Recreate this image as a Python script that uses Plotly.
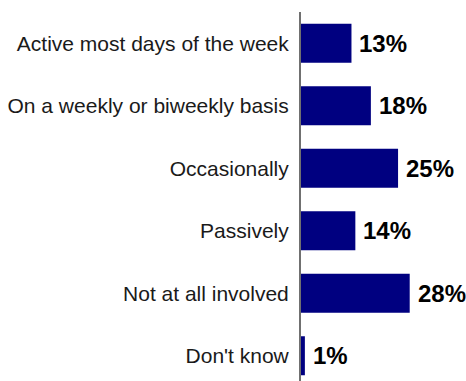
import plotly.graph_objects as go

categories = [
    "Active most days of the week",
    "On a weekly or biweekly basis",
    "Occasionally",
    "Passively",
    "Not at all involved",
    "Don't know",
]
values = [13, 18, 25, 14, 28, 1]

bar_color = "#000080"

fig = go.Figure(
    go.Bar(
        x=values,
        y=categories,
        orientation="h",
        marker=dict(color=bar_color, line=dict(width=0)),
        hoverinfo="skip",
    )
)

# value labels to the right of each bar
for cat, val in zip(categories, values):
    fig.add_annotation(
        x=val,
        y=cat,
        text=f"<b>{val}%</b>",
        showarrow=False,
        xanchor="left",
        yanchor="middle",
        xshift=6,
        font=dict(family="Liberation Sans", size=24, color="#000000"),
    )

fig.update_layout(
    width=466,
    height=381,
    margin=dict(l=301, r=0, t=12, b=0),
    paper_bgcolor="white",
    plot_bgcolor="white",
    showlegend=False,
    bargap=0.376,
)

fig.update_xaxes(
    range=[0, 42.5],
    visible=False,
    showgrid=False,
    zeroline=False,
)

fig.update_yaxes(
    type="category",
    categoryorder="array",
    categoryarray=categories,
    range=[5.404, -0.5],
    showline=True,
    linecolor="#707070",
    linewidth=2,
    showgrid=False,
    zeroline=False,
    ticks="",
    ticklabelstandoff=6,
    tickfont=dict(family="Liberation Sans", size=21, color="#1a1a1a"),
)

fig.write_html("out.html")
